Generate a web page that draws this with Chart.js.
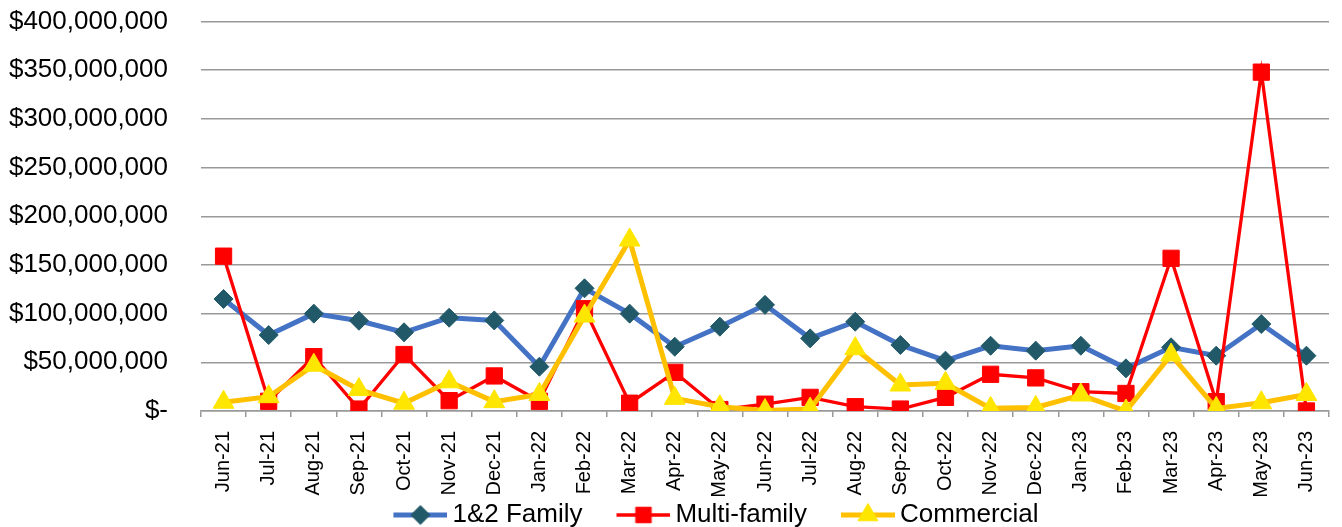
<!DOCTYPE html>
<html>
<head>
<meta charset="utf-8">
<script src="https://cdn.jsdelivr.net/npm/chart.js@4"></script>
<style>
  html, body { margin: 0; padding: 0; background: #fff; }
  #wrap { width: 1342px; height: 527px; }
</style>
</head>
<body>
<div id="wrap"><canvas id="permitChart" width="1342" height="527"></canvas></div>
<script>
const ctx = document.getElementById('permitChart');

// Data
var months = ['Jun-21', 'Jul-21', 'Aug-21', 'Sep-21', 'Oct-21', 'Nov-21', 'Dec-21', 'Jan-22',
  'Feb-22', 'Mar-22', 'Apr-22', 'May-22', 'Jun-22', 'Jul-22', 'Aug-22', 'Sep-22', 'Oct-22',
  'Nov-22', 'Dec-22', 'Jan-23', 'Feb-23', 'Mar-23', 'Apr-23', 'May-23', 'Jun-23'];
var family = [115000000, 78000000, 100000000, 92700000, 80800000, 95800000, 93000000, 45500000,
  126000000, 100000000, 66000000, 86600000, 109000000, 74600000, 91700000, 67800000, 51700000,
  67000000, 62000000, 67000000, 43800000, 65400000, 56800000, 89300000, 56800000];
var multi = [159000000, 10000000, 55800000, 2000000, 58000000, 10600000, 36000000, 10000000,
  105000000, 8000000, 39700000, 1500000, 7000000, 14000000, 4400000, 2000000, 14000000,
  37700000, 34000000, 19800000, 18000000, 156800000, 9600000, 348000000, 0];
var commercial = [9000000, 14700000, 47000000, 22000000, 8000000, 30000000, 9600000, 17000000,
  97500000, 175600000, 13000000, 4400000, 500000, 2000000, 64000000, 26700000, 28400000,
  2700000, 3700000, 16400000, 0, 57500000, 2700000, 8500000, 17000000];
var yTicks = [0, 50000000, 100000000, 150000000, 200000000, 250000000, 300000000, 350000000, 400000000];

Chart.defaults.font.family = '"Liberation Sans", Arial, sans-serif';
Chart.defaults.color = '#000';

//Legend icon: line with marker in the middle, left part left empty as item gap
function legendIcon(lineColor, lineWidth, markerColor, style, radius) {
  var c = document.createElement('canvas');
  c.width = 90; c.height = 30;
  var g = c.getContext('2d');
  g.strokeStyle = lineColor;
  g.lineWidth = lineWidth;
  g.beginPath(); g.moveTo(36, 15); g.lineTo(90, 15); g.stroke();
  g.fillStyle = markerColor;
  g.strokeStyle = markerColor;
  g.lineWidth = 1;
  g.beginPath();
  Chart.helpers.drawPoint(g, {pointStyle: style, radius: radius, borderWidth: 1, rotation: 0}, 63, 15);
  return c;
}

var series = [
  {label: '1&2 Family', data: family, line: '#4472C4', width: 5, marker: '#215968', style: 'rectRot', r: 9.5, lr: 9.5, order: 2},
  {label: 'Multi-family', data: multi, line: '#FF0000', width: 3.3, marker: '#FF0000', style: 'rect', r: 11.5, lr: 11, order: 1},
  {label: 'Commercial', data: commercial, line: '#FFC000', width: 5, marker: '#FFE600', style: 'triangle', r: 12, lr: 11.5, order: 0}
];

//Move the legend to where the original sits and let the month labels use the space below the axis
const layoutTweak = {
  id: 'layoutTweak',
  afterLayout: function (chart) {
    var l = chart.legend;
    l.left += 32; l.right += 32;
    l.top += 11; l.bottom += 11;
    var x = chart.scales.x;
    x.bottom = chart.height;
    x.height = x.bottom - x.top;
  }
};

new Chart(ctx, {
  type: 'line',
  data: {
    labels: months,
    datasets: series.map(function (s) {
      return {
        label: s.label,
        data: s.data,
        order: s.order,
        borderColor: s.line,
        borderWidth: s.width,
        pointStyle: s.style,
        pointRadius: s.r,
        pointBackgroundColor: s.marker,
        pointBorderColor: s.marker,
        pointBorderWidth: 1,
        tension: 0
      };
    })
  },
  options: {
    responsive: false,
    animation: false,
    layout: { padding: { top: 21.5, right: 2, left: 0, bottom: 0 } },
    plugins: {
      tooltip: { enabled: false },
      legend: {
        position: 'bottom',
        onClick: null,
        labels: {
          usePointStyle: true,
          pointStyleWidth: 74,
          padding: 6,
          font: { size: 26 },
          color: '#000',
          generateLabels: function () {
            return series.map(function (s, i) {
              return {
                text: s.label,
                pointStyle: legendIcon(s.line, s.width, s.marker, s.style, s.lr),
                datasetIndex: i,
                hidden: false,
                fontColor: '#000',
                lineWidth: 0
              };
            });
          }
        }
      }
    },
    scales: {
      x: {
        offset: true,
        grid: { display: true, drawOnChartArea: false, drawTicks: true, tickLength: 6, color: '#999', lineWidth: 1.5, offset: true },
        border: { display: true, color: '#999', width: 1.5 },
        ticks: { maxRotation: 90, minRotation: 90, autoSkip: false, padding: 14, font: { size: 20 }, color: '#000' },
        afterFit: function (scale) {
          scale.height = 74;
          scale.paddingLeft = 0;
          scale.paddingRight = 0;
        }
      },
      y: {
        min: 0,
        max: 400000000,
        afterBuildTicks: function (scale) { scale.ticks = yTicks.map(function (v) { return {value: v}; }); },
        grid: { color: '#999', lineWidth: 1.5, tickLength: 0 },
        border: { display: false },
        ticks: {
          padding: 33,
          font: { size: 26 },
          color: '#000',
          callback: function (v) { return v === 0 ? '$-' : '$' + Number(v).toLocaleString('en-US'); }
        },
        afterFit: function (scale) {
          scale.width = 201;
          scale.paddingTop = 0;
          scale.paddingBottom = 0;
        }
      }
    }
  },
  plugins: [layoutTweak]
});
</script>
</body>
</html>
